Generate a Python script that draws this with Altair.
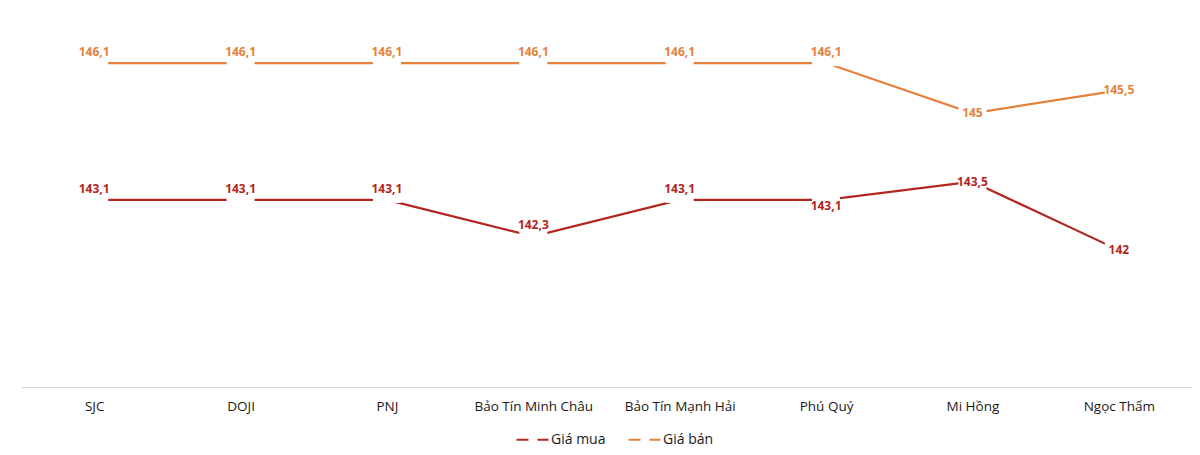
import altair as alt
import pandas as pd

cats = ["SJC", "DOJI", "PNJ", "Bảo Tín Minh Châu", "Bảo Tín Mạnh Hải", "Phú Quý", "Mi Hồng", "Ngọc Thẩm"]
gia_mua = [143.1, 143.1, 143.1, 142.3, 143.1, 143.1, 143.5, 142.0]
gia_ban = [146.1, 146.1, 146.1, 146.1, 146.1, 146.1, 145.0, 145.5]
pos_mua = ["above", "above", "above", "above", "above", "below", "center", "center"]
pos_ban = ["above", "above", "above", "above", "above", "above", "center", "center"]
series = ["Giá mua", "Giá bán"]
colors = ["#B3261E", "#E5813C"]


def fmt(v):
    s = f"{v:.1f}"
    if s.endswith(".0"):
        s = s[:-2]
    return s.replace(".", ",")


rows = []
for c, v, p in zip(cats, gia_mua, pos_mua):
    rows.append({"cat": c, "val": v, "series": "Giá mua", "pos": p, "label": fmt(v)})
for c, v, p in zip(cats, gia_ban, pos_ban):
    rows.append({"cat": c, "val": v, "series": "Giá bán", "pos": p, "label": fmt(v)})
df = pd.DataFrame(rows)

FONT = "Open Sans"

x = alt.X("cat:N", sort=cats, title=None,
          axis=alt.Axis(labelAngle=0, ticks=False, grid=False, domainColor="#D9D9D9",
                        domainWidth=1, labelFont=FONT, labelFontSize=13.5, labelColor="#1a1a1a",
                        labelPadding=12))
y = alt.Y("val:Q", title=None, scale=alt.Scale(domain=[139, 147], zero=False, nice=False),
          axis=None)
color = alt.Color("series:N", sort=series,
                  scale=alt.Scale(domain=series, range=colors),
                  legend=alt.Legend(title=None, orient="none", legendX=494, legendY=400,
                                    direction="horizontal", symbolType="stroke",
                                    symbolSize=1024, symbolStrokeWidth=2.2,
                                    symbolDash=[12, 9], labelOffset=1, columnPadding=18,
                                    labelFont=FONT, labelFontSize=14, labelColor="#1a1a1a",
                                    padding=0))

base = alt.Chart(df).encode(x=x, y=y)

lines = base.mark_line(strokeWidth=2.2).encode(color=color, detail="series:N")

box_shape = "M-1,-0.857L1,-0.857L1,0.857L-1,0.857Z"
text_off = {"above": -11, "below": 6, "center": 0}
box_off = {"above": -9, "below": 4, "center": 0}

layers = [lines]
for p, off in box_off.items():
    layers.append(
        base.transform_filter(alt.datum.pos == p)
        .mark_point(shape=box_shape, filled=True, fill="white", opacity=1,
                    strokeWidth=0, size=784, yOffset=off)
    )
for p, off in text_off.items():
    layers.append(
        base.transform_filter(alt.datum.pos == p)
        .mark_text(font=FONT, fontSize=12, fontWeight="bold", yOffset=off,
                   baseline="middle", align="center")
        .encode(text="label:N", color=alt.Color("series:N", sort=series,
                                                 scale=alt.Scale(domain=series, range=colors),
                                                 legend=None))
    )

chart = alt.layer(*layers).properties(
    width=1171, height=365,
    autosize=alt.AutoSizeParams(type="none"),
    padding={"left": 13, "top": 14, "right": 0, "bottom": 60},
).configure_view(stroke=None)

chart.save("out.html", embed_options={"renderer": "svg", "actions": False})
